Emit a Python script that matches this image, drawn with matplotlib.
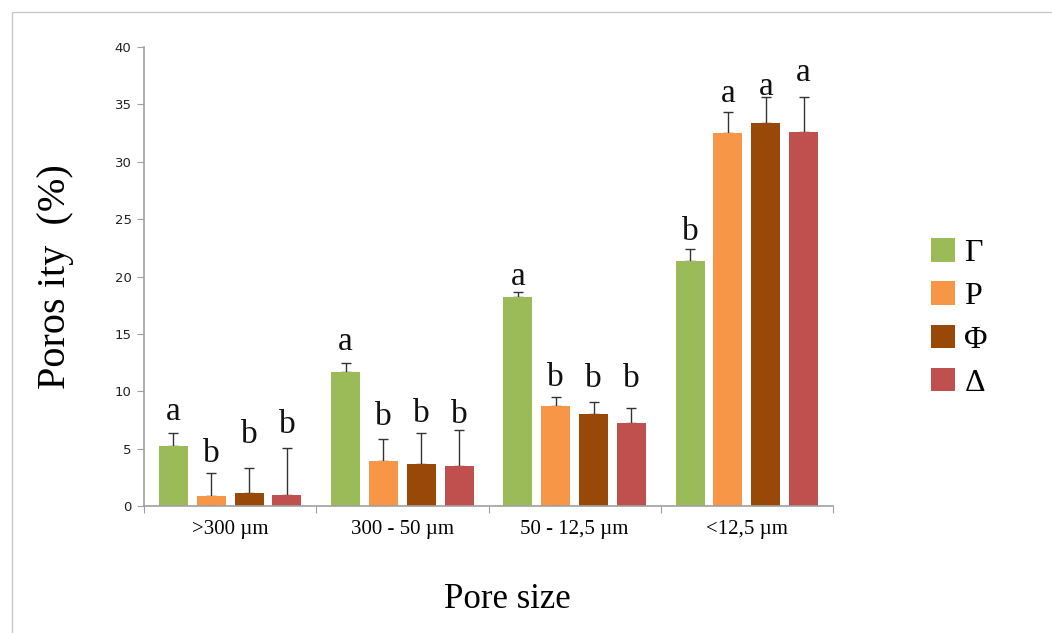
import matplotlib
matplotlib.use("Agg")
import matplotlib.pyplot as plt
import numpy as np
from matplotlib.patches import Rectangle, Patch

categories = [">300 µm", "300 - 50 µm", "50 - 12,5 µm", "<12,5 µm"]
series = ["Γ", "Ρ", "Φ", "Δ"]
colors = ["#9BBB59", "#F79646", "#984807", "#C0504D"]
values = {
    "Γ": [5.2, 11.7, 18.2, 21.35],
    "Ρ": [0.9, 3.9, 8.7, 32.5],
    "Φ": [1.1, 3.66, 8.0, 33.4],
    "Δ": [1.0, 3.5, 7.2, 32.6],
}
errors = {
    "Γ": [1.2, 0.8, 0.45, 1.05],
    "Ρ": [2.0, 1.9, 0.8, 1.8],
    "Φ": [2.2, 2.74, 1.06, 2.2],
    "Δ": [4.05, 3.1, 1.3, 3.0],
}
letters = {
    "Γ": ["a", "a", "a", "b"],
    "Ρ": ["b", "b", "b", "a"],
    "Φ": ["b", "b", "b", "a"],
    "Δ": ["b", "b", "b", "a"],
}
# baseline height (in %) of each significance letter
letter_y = {
    "Γ": [7.5, 13.6, 19.3, 23.2],
    "Ρ": [3.8, 7.1, 10.5, 35.2],
    "Φ": [5.5, 7.3, 10.4, 35.8],
    "Δ": [6.4, 7.2, 10.4, 37.0],
}
yticks = [0, 5, 10, 15, 20, 25, 30, 35, 40]

serif = "Liberation Serif"
fig = plt.figure(figsize=(10.52, 6.33), dpi=100)
fig.patches.append(Rectangle((12/1052, -0.1), 1.2, 1 - 12/633 + 0.1,
                             transform=fig.transFigure, fill=False,
                             edgecolor="#c8c8c8", linewidth=1.0))
ax = fig.add_axes([144/1052, 1 - 506/633, (833 - 144)/1052, (506 - 47)/633])

x = np.arange(len(categories))
step = 0.22
width = 0.168
for i, s in enumerate(series):
    pos = x + (i - 1.5) * step
    v = np.array(values[s])
    e = np.array(errors[s])
    ax.bar(pos, v, width=width, color=colors[i], zorder=2)
    ax.errorbar(pos, v, yerr=[np.zeros_like(e), e], fmt="none",
                ecolor="#333333", elinewidth=1.0, capsize=3.5, capthick=1.0, zorder=1)
    for p, ly, lab in zip(pos, letter_y[s], letters[s]):
        ax.text(p, ly, lab, ha="center", va="baseline",
                fontsize=24, family=serif, color="#111111")

ax.set_xlim(-0.5, len(categories) - 0.5)
ax.set_ylim(0, 40)
ax.set_yticks(yticks)
ax.set_yticklabels([str(t) for t in yticks], fontsize=9.5, family="DejaVu Sans", color="#222222")
ax.set_xticks(np.arange(len(categories) + 1) - 0.5)
ax.set_xticklabels([])
ax.set_xticks(x, minor=True)
ax.set_xticklabels(categories, minor=True, fontsize=15, family=serif)
ax.tick_params(axis="x", which="minor", length=0, pad=10)
ax.tick_params(axis="x", which="major", length=5, color="#a0a0a0", direction="out")
ax.tick_params(axis="y", length=5, color="#a0a0a0", direction="out", pad=4)
for sp in ["top", "right"]:
    ax.spines[sp].set_visible(False)
for sp in ["left", "bottom"]:
    ax.spines[sp].set_color("#a0a0a0")
    ax.spines[sp].set_linewidth(1.2)

fig.text(55/1052, 1 - 277/633, "Poros ity  (%)", rotation=90, ha="center", va="center",
         fontsize=29, family=serif)
fig.text(507/1052, 1 - 600/633, "Pore size", ha="center", va="center",
         fontsize=25, family=serif)

handles = [Patch(facecolor=c, edgecolor="none") for c in colors]
leg = fig.legend(handles, series, loc="center left", bbox_to_anchor=(902/1052, 1 - 318/633),
                 frameon=False, prop={"family": serif, "size": 23},
                 handlelength=0.75, handleheight=0.75, handletextpad=0.3, labelspacing=0.42)

fig.savefig("out.png", dpi=100, facecolor="white")
